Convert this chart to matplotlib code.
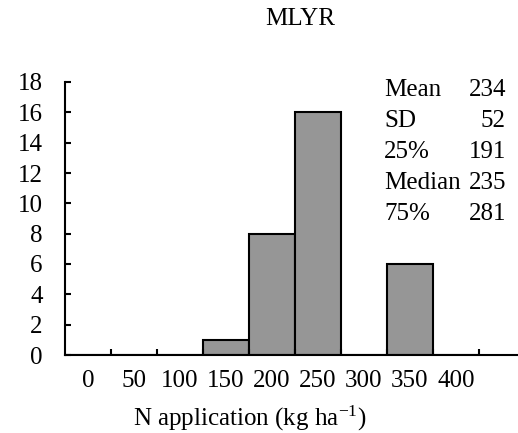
import matplotlib
matplotlib.use('Agg')
import matplotlib.pyplot as plt
import numpy as np

plt.rcParams['font.family'] = 'Liberation Serif'
plt.rcParams['mathtext.fontset'] = 'custom'
plt.rcParams['mathtext.rm'] = 'Liberation Serif'
plt.rcParams['mathtext.it'] = 'Liberation Serif:italic'

# N rate classes (kg ha-1) and number of sites in each
n_rates = ['0', '50', '100', '150', '200', '250', '300', '350', '400']
counts = [0, 0, 0, 1, 8, 16, 0, 6, 0]

stat_names = ['Mean', 'SD', '25%', 'Median', '75%']
stat_values = [234, 52, 191, 235, 281]

fig = plt.figure(figsize=(5.18, 4.33), dpi=100)
ax = fig.add_axes([65/518, 78/433, 453/518, 273/433])

x = np.arange(len(n_rates))
ax.bar(x, counts, width=1.0, color='#969696', edgecolor='black', linewidth=1.5)

ax.set_xlim(-0.5, 9.35)
ax.set_ylim(0, 18)
ax.set_yticks(range(0, 19, 2))
ax.set_xticks(x)
ax.set_xticklabels(n_rates)
ax.set_xticks(np.arange(0.5, 9, 1.0), minor=True)

ax.tick_params(axis='x', which='major', length=0, pad=11, labelsize=18)
ax.tick_params(axis='x', which='minor', direction='in', length=4, width=1.5)
ax.tick_params(axis='y', direction='in', length=4, width=1.5, pad=16, labelsize=18)

for s in ['top', 'right']:
    ax.spines[s].set_visible(False)
for s in ['left', 'bottom']:
    ax.spines[s].set_linewidth(1.5)

ax.set_xlabel(r'N application (kg ha$^{\mathrm{-1}}$)', fontsize=18,
              labelpad=8, x=(250 - 65) / 453)
fig.text(300/518, 1 - 19/433, 'MLYR', ha='center', va='center', fontsize=18)

y0 = 90
for i, (name, val) in enumerate(zip(stat_names, stat_values)):
    yy = 1 - (y0 + i * 31) / 433
    fig.text(384/518, yy, name, ha='left', va='center', fontsize=18)
    fig.text(506/518, yy, str(val), ha='right', va='center', fontsize=18)

fig.savefig('out.png', dpi=100)
